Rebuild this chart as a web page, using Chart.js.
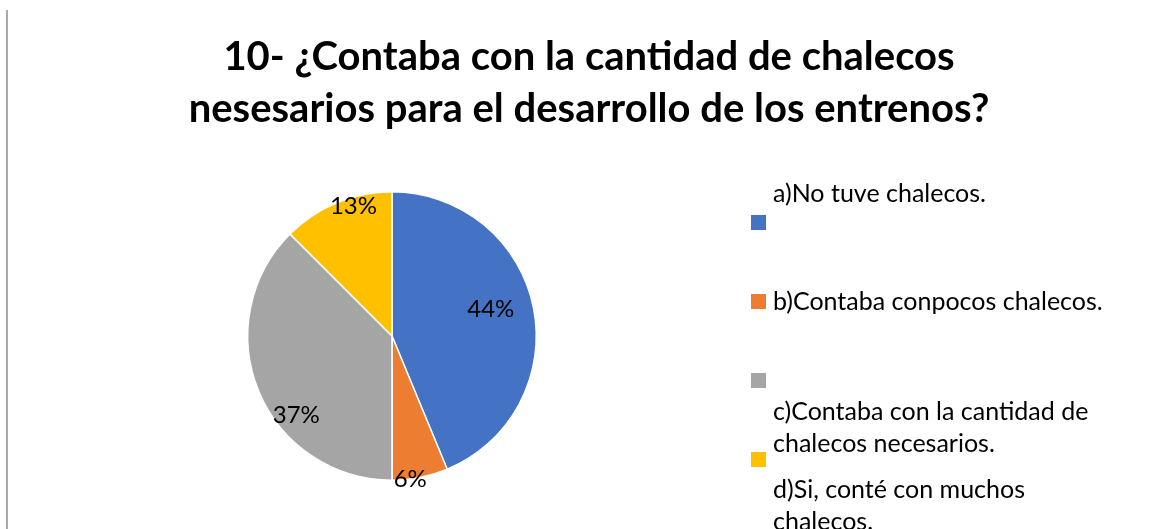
<!DOCTYPE html>
<html>
<head>
<meta charset="utf-8">
<script src="https://cdn.jsdelivr.net/npm/chart.js@4"></script>
<style>
	body { margin: 0; background: #fff; }
	#wrap { position: relative; width: 1154px; height: 529px; }
	#edge { position: absolute; left: 6px; top: 10px; height: 519px; border-left: 2px solid #a9a9a9; }
</style>
</head>
<body>
<div id="wrap">
	<div id="edge"></div>
	<canvas id="pie_chart" width="1154" height="529"></canvas>
</div>
<script>
const titleLines = ["10- ¿Contaba con la cantidad de chalecos", "nesesarios para el desarrollo de los entrenos?"];
const labels = [
	["a)No tuve chalecos."],
	["b)Contaba conpocos chalecos."],
	["c)Contaba con la cantidad de", "chalecos necesarios."],
	["d)Si, conté con muchos", "chalecos."],
];
const counts = [7, 1, 6, 2];
const pctLabels = ["44%", "6%", "37%", "13%"];
const colors = ["#4472C4", "#ED7D31", "#A5A5A5", "#FFC000"];

// title, drawn centred on the whole frame (not on the pie area)
const titlePlugin = {
	id: 'frameTitle',
	afterDraw(chart, args, opts) {
		const c = chart.ctx;
		c.save();
		c.font = 'bold 40px Lato';
		c.fillStyle = '#000';
		c.textAlign = 'center';
		c.textBaseline = 'alphabetic';
		titleLines.forEach((t, i) => c.fillText(t, opts.x, opts.y + i * opts.lineHeight));
		c.restore();
	}
};

// percentage labels inside/around the slices
const pctPlugin = {
	id: 'pctLabels',
	afterDatasetsDraw(chart, args, opts) {
		const c = chart.ctx;
		const meta = chart.getDatasetMeta(0);
		c.save();
		c.font = '24px Lato';
		c.fillStyle = '#000';
		c.textAlign = 'center';
		c.textBaseline = 'middle';
		meta.data.forEach((arc, i) => {
			const p = opts.place[i];
			const a = (arc.startAngle + arc.endAngle) / 2 + p.da * Math.PI / 180;
			const r = arc.outerRadius * p.f;
			c.fillText(pctLabels[i], arc.x + Math.cos(a) * r, arc.y + Math.sin(a) * r);
		});
		c.restore();
	}
};

// legend with the odd excel-like spacing
const legendPlugin = {
	id: 'sideLegend',
	afterDraw(chart, args, opts) {
		const c = chart.ctx;
		c.save();
		c.font = '25px Lato';
		c.textBaseline = 'alphabetic';
		labels.forEach((lines, i) => {
			c.fillStyle = colors[i];
			c.fillRect(opts.boxX, opts.boxY + i * opts.step, opts.box, opts.box);
			c.fillStyle = '#000';
			lines.forEach((t, j) => c.fillText(t, opts.textX, opts.textY[i] + j * opts.lineHeight));
		});
		c.restore();
	}
};

new Chart(document.getElementById('pie_chart'), {
	type: 'pie',
	data: {
		labels: labels,
		datasets: [{
			data: counts,
			backgroundColor: colors,
			borderColor: '#fff',
			borderWidth: 1.5,
		}]
	},
	options: {
		responsive: false,
		animation: false,
		layout: {
			padding: { top: 191, bottom: 48, left: 24, right: 394 }
		},
		plugins: {
			legend: { display: false },
			title: { display: false },
			tooltip: { enabled: false },
			frameTitle: { x: 589, y: 70, lineHeight: 52 },
			pctLabels: {
				place: [
					{ f: 0.71, da: -4 },
					{ f: 1.0, da: 4 },
					{ f: 0.86, da: -17 },
					{ f: 0.94, da: 6 },
				]
			},
			sideLegend: {
				boxX: 751, boxY: 215, box: 15, step: 79,
				textX: 773, textY: [202, 310, 420, 498], lineHeight: 32,
			},
		},
	},
	plugins: [titlePlugin, pctPlugin, legendPlugin],
});
</script>
</body>
</html>
